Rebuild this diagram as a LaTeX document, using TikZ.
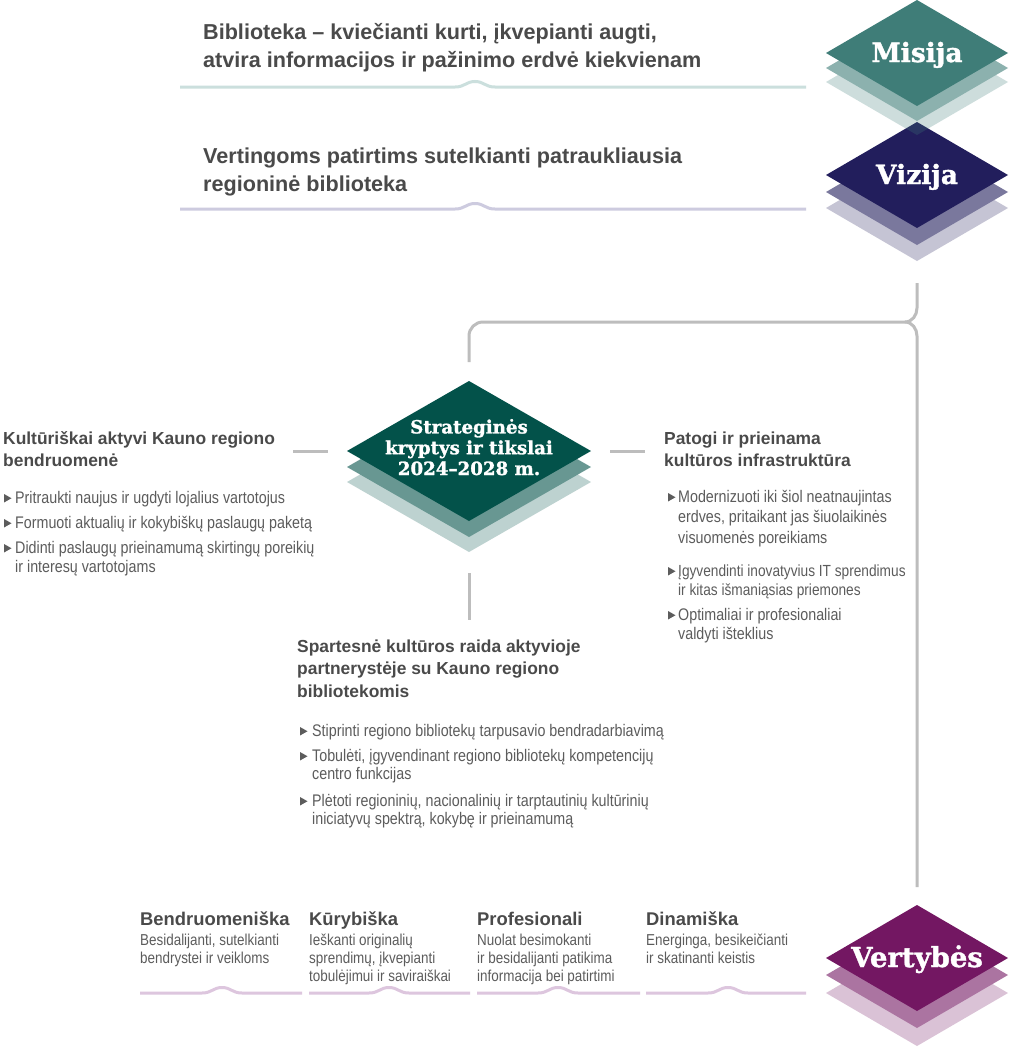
\documentclass[tikz,border=0pt]{standalone}
\usepackage{fontspec}
\setmainfont{Liberation Sans}
\newfontfamily\hfont{Liberation Sans}
\newfontfamily\bfont[FakeStretch=0.85]{Liberation Sans}
\newfontfamily\dfont[FakeBold=1.4]{DejaVu Serif Bold}
\definecolor{headcol}{HTML}{4A4A4A}
\definecolor{bodycol}{HTML}{5C5C5C}
\definecolor{conncol}{HTML}{BDBDBD}
\definecolor{misc}{HTML}{3F7D78}
\definecolor{vizc}{HTML}{221E5C}
\definecolor{strc}{HTML}{03524A}
\definecolor{verc}{HTML}{731762}
\definecolor{misline}{HTML}{CBDFDD}
\definecolor{vizline}{HTML}{CDCBDF}
\definecolor{verline}{HTML}{DDC6DE}
\newcommand\stkdia[7]{%
  \fill[#5, opacity=0.26] (#1-#3,#2+#7) -- (#1,#2+#7-#4) -- (#1+#3,#2+#7) -- (#1,#2+#7+#4) -- cycle;
  \fill[#5!60!white] (#1-#3,#2+#6) -- (#1,#2+#6-#4) -- (#1+#3,#2+#6) -- (#1,#2+#6+#4) -- cycle;
  \fill[#5] (#1-#3,#2) -- (#1,#2-#4) -- (#1+#3,#2) -- (#1,#2+#4) -- cycle;}
\newcommand\bumpline[5]{% x1, x2, bump centre, y, colour
  \draw[#5, line width=3pt] (#1,#4) -- (#3-20,#4) .. controls (#3-10,#4) and (#3-9,#4-5.5) .. (#3,#4-5.5)
     .. controls (#3+9,#4-5.5) and (#3+10,#4) .. (#3+20,#4) -- (#2,#4);}
\newcommand\bul[2]{\fill[bodycol] (#1,#2-9) -- (#1+7.5,#2-4.75) -- (#1,#2-0.5) -- cycle;}
\begin{document}
\begin{tikzpicture}[x=1pt,y=-1pt,
  tophead/.style={anchor=base west, inner sep=0, align=left, text=headcol, font=\hfont\bfseries\fontsize{21.6}{28}\selectfont},
  head/.style={anchor=base west, inner sep=0, align=left, text=headcol, font=\hfont\bfseries\fontsize{17.4}{22.5}\selectfont},
  body/.style={anchor=base west, inner sep=0, align=left, text=bodycol, font=\bfont\fontsize{16.8}{19.5}\selectfont},
  bodyw/.style={body, font=\bfont\fontsize{16.8}{20.5}\selectfont},
  bodyn/.style={body, font=\bfont\fontsize{16.8}{18.5}\selectfont},
  vtitle/.style={anchor=base west, inner sep=0, text=headcol, font=\hfont\bfseries\fontsize{18.4}{22}\selectfont},
  vdesc/.style={anchor=base west, inner sep=0, align=left, text=bodycol, font=\bfont\fontsize{15.8}{18}\selectfont},
  dlab/.style={anchor=base, inner sep=0, text=white, font=\dfont\fontsize{26.5}{30}\selectfont},
  slab/.style={anchor=base, inner sep=0, align=center, text=white, font=\dfont\fontsize{18.2}{20.8}\selectfont},
  conn/.style={draw=conncol, line width=3pt}]
\useasboundingbox (0,0) rectangle (1010,1050);
\fill[white] (0,0) rectangle (1010,1050);

% diamonds
\stkdia{917}{175}{91}{53}{vizc}{17}{33}
\stkdia{917}{53}{91}{53}{misc}{15}{29}
\stkdia{469}{451}{122}{70}{strc}{16}{31}
\stkdia{917}{958}{91}{53}{verc}{17}{35}

\node[dlab] (misija) at (917,62) {Misija};
\node[dlab] (vizija) at (917,184) {Vizija};
\node[dlab, font=\dfont\fontsize{27.5}{30}\selectfont] (vertybes) at (917,967) {Vertybės};
\node[slab] (strat) at (469,475) {Strateginės\\kryptys ir tikslai\\2024–2028 m.};

% top texts and lines
\node[tophead] (mistext) at (203,67) {Biblioteka – kviečianti kurti, įkvepianti augti,\\atvira informacijos ir pažinimo erdvė kiekvienam};
\bumpline{180}{806}{475}{87}{misline}
\node[tophead] (viztext) at (203,191) {Vertingoms patirtims sutelkianti patraukliausia\\regioninė biblioteka};
\bumpline{180}{806}{475}{209}{vizline}

% connectors
\coordinate (vtop) at (917,283);
\coordinate (tip) at (905,322);
\coordinate (corner) at (483,322);
\coordinate (stop) at (469,362);
\coordinate (vbot) at (917,887);
\draw[conn] (vtop) -- (917,308) to[out=-90,in=0] (tip) -- (corner) to[out=180,in=90] (469,336) -- (stop);
\draw[conn] (tip) to[out=0,in=90] (917,336) -- (vbot);
\coordinate (l1) at (293,451); \coordinate (l2) at (328,451);
\coordinate (r1) at (610,451); \coordinate (r2) at (645,451);
\coordinate (d1) at (469,573); \coordinate (d2) at (469,620);
\draw[conn] (l1) -- (l2);
\draw[conn] (r1) -- (r2);
\draw[conn] (d1) -- (d2);

% left block
\node[head] (lhead) at (3,466.5) {Kultūriškai aktyvi Kauno regiono\\bendruomenė};
\bul{4}{503}\node[body] (lb1) at (15,503) {Pritraukti naujus ir ugdyti lojalius vartotojus};
\bul{4}{528}\node[body] (lb2) at (15,528) {Formuoti aktualių ir kokybiškų paslaugų paketą};
\bul{4}{553}\node[body] (lb3) at (15,572.5) {Didinti paslaugų prieinamumą skirtingų poreikių\\ir interesų vartotojams};

% right block
\node[head] (rhead) at (664,466.5) {Patogi ir prieinama\\kultūros infrastruktūra};
\bul{668}{502}\node[bodyw] (rb1) at (678,543) {Modernizuoti iki šiol neatnaujintas\\erdves, pritaikant jas šiuolaikinės\\visuomenės poreikiams};
\bul{668}{576}\node[body, font=\bfont\fontsize{16.1}{19.5}\selectfont] (rb2) at (678,595.5) {Įgyvendinti inovatyvius IT sprendimus\\ir kitas išmaniąsias priemones};
\bul{668}{620}\node[body] (rb3) at (678,639.5) {Optimaliai ir profesionaliai\\valdyti išteklius};

% middle block
\node[head] (mhead) at (297,697) {Spartesnė kultūros raida aktyvioje\\partnerystėje su Kauno regiono\\bibliotekomis};
\bul{300}{736}\node[body] (mb1) at (312,736) {Stiprinti regiono bibliotekų tarpusavio bendradarbiavimą};
\bul{300}{761}\node[bodyn] (mb2) at (312,779.5) {Tobulėti, įgyvendinant regiono bibliotekų kompetencijų\\centro funkcijas};
\bul{300}{806}\node[bodyn] (mb3) at (312,824.5) {Plėtoti regioninių, nacionalinių ir tarptautinių kultūrinių\\iniciatyvų spektrą, kokybę ir prieinamumą};

% values
\node[vtitle] (v1) at (140,925) {Bendruomeniška};
\node[vdesc] (v1d) at (140,963) {Besidalijanti, sutelkianti\\bendrystei ir veikloms};
\node[vtitle] (v2) at (309,925) {Kūrybiška};
\node[vdesc] (v2d) at (309,981) {Ieškanti originalių\\sprendimų, įkvepianti\\tobulėjimui ir saviraiškai};
\node[vtitle] (v3) at (477,925) {Profesionali};
\node[vdesc] (v3d) at (477,981) {Nuolat besimokanti\\ir besidalijanti patikima\\informacija bei patirtimi};
\node[vtitle] (v4) at (646,925) {Dinamiška};
\node[vdesc] (v4d) at (646,963) {Energinga, besikeičianti\\ir skatinanti keistis};
\bumpline{140}{302}{222}{993}{verline}
\bumpline{309}{470}{389}{993}{verline}
\bumpline{477}{640}{558}{993}{verline}
\bumpline{646}{806}{728}{993}{verline}
\end{tikzpicture}
\end{document}
